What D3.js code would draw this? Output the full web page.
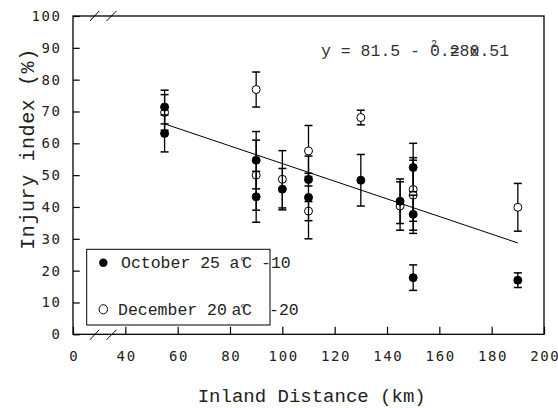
<!DOCTYPE html>
<html>
<head>
<meta charset="utf-8">
<script src="https://cdn.jsdelivr.net/npm/d3@7"></script>
<style>
  body { margin: 0; background: #fff; }
</style>
</head>
<body>
<div id="chart"></div>
<script>
// October 25 (-10 C) : filled circles
var octX   = [55, 55, 90, 90, 100, 110, 110, 130, 145, 150, 150, 150, 190];
var octY   = [71.4, 63.1, 54.7, 43.2, 45.6, 48.6, 43.0, 48.4, 41.8, 52.4, 37.7, 17.8, 17.0];
var octErr = [5.3, 5.8, 9, 8, 6.5, 2, 13, 8.1, 7, 7.6, 6, 4, 2.3];

// December 20 (-20 C) : open circles
var decX   = [55, 90, 90, 100, 110, 110, 130, 145, 150, 150, 190];
var decY   = [69.7, 76.9, 50.0, 48.7, 57.6, 38.7, 68.1, 40.3, 45.5, 43.7, 39.9];
var decErr = [5.6, 5.5, 11, 9, 8, 3, 2.3, 7.6, 10, 11, 7.5];

// regression line end points
var lineX = [55, 190];
var lineY = [66.1, 28.7];

var xTicks = [20, 40, 60, 80, 100, 120, 140, 160, 180, 200];
var xTickLabels = ["0", "40", "60", "80", "100", "120", "140", "160", "180", "200"];
var yTicks = [0, 10, 20, 30, 40, 50, 60, 70, 80, 90, 100];

var W = 558, H = 408;
var pl = 73, pr = 544, pt = 16, pb = 334.3;
var mono = "'Liberation Mono', 'Courier New', monospace";
var tickFont = "'DejaVu Sans Mono', monospace";

var svg = d3.select("#chart").append("svg")
  .attr("width", W).attr("height", H);

var x = d3.scaleLinear().domain([20, 200]).range([pl, pr]);
var y = d3.scaleLinear().domain([0, 100]).range([pb, pt]);

// axes (ticks point inward)
var gx = svg.append("g")
  .attr("transform", "translate(0," + pb + ")")
  .call(d3.axisBottom(x).tickValues(xTicks)
    .tickFormat(function(d, i){ return xTickLabels[i]; })
    .tickSize(-7.5).tickPadding(17));
gx.select(".domain").remove();

var gy = svg.append("g")
  .attr("transform", "translate(" + pl + ",0)")
  .call(d3.axisLeft(y).tickValues(yTicks).tickSize(-6.7).tickPadding(11.5));
gy.select(".domain").remove();

svg.selectAll(".tick line").attr("stroke", "#000").attr("stroke-width", 1.2);
svg.selectAll(".tick text")
  .style("font-family", tickFont)
  .style("font-size", "14px")
  .style("letter-spacing", "1.6px")
  .attr("fill", "#222");
gx.selectAll(".tick text").attr("dx", "0.8px");

// frame
svg.append("rect")
  .attr("x", pl).attr("y", pt)
  .attr("width", pr - pl).attr("height", pb - pt)
  .attr("fill", "none").attr("stroke", "#000").attr("stroke-width", 1.3);

// axis break marks
[[x(26.5), x(30)], [x(32.8), x(36.6)]].forEach(function(p){
  svg.append("line").attr("x1", p[0]).attr("x2", p[1])
    .attr("y1", pt + 5).attr("y2", pt - 5)
    .attr("stroke", "#000").attr("stroke-width", 1);
  svg.append("line").attr("x1", p[0]).attr("x2", p[1])
    .attr("y1", pb + 5.5).attr("y2", pb - 4.5)
    .attr("stroke", "#000").attr("stroke-width", 1);
});

// regression line
svg.append("line")
  .attr("x1", x(lineX[0])).attr("y1", y(lineY[0]))
  .attr("x2", x(lineX[1])).attr("y2", y(lineY[1]))
  .attr("stroke", "#000").attr("stroke-width", 1);

function drawSeries(xs, ys, es, filled){
  var g = svg.append("g");
  var cap = 4;
  xs.forEach(function(xv, i){
    var cx = x(xv), y1 = y(ys[i] + es[i]), y2 = y(ys[i] - es[i]);
    g.append("line").attr("x1", cx).attr("x2", cx).attr("y1", y1).attr("y2", y2)
      .attr("stroke", "#000").attr("stroke-width", 1.3);
    [y1, y2].forEach(function(yy){
      g.append("line").attr("x1", cx - cap).attr("x2", cx + cap)
        .attr("y1", yy).attr("y2", yy)
        .attr("stroke", "#000").attr("stroke-width", 1.5);
    });
  });
  g.selectAll("circle").data(xs).enter().append("circle")
    .attr("cx", function(d){ return x(d); })
    .attr("cy", function(d, i){ return y(ys[i]); })
    .attr("r", 4)
    .attr("fill", filled ? "#000" : "#fff")
    .attr("stroke", "#000").attr("stroke-width", 1);
}
drawSeries(decX, decY, decErr, false);
drawSeries(octX, octY, octErr, true);

// equation text (overlapping strings as in the source)
var eq = svg.append("g")
  .style("font-family", mono).style("font-size", "16.5px").attr("fill", "#333");
eq.append("text").attr("x", 321).attr("y", 56).style("white-space", "pre")
  .text("y = 81.5 - 0.28x");
eq.append("text").attr("x", 321 + 11 * 9.9 + 1).attr("y", 47)
  .style("font-size", "10px").text("2");
eq.append("text").attr("x", 321 + 13 * 9.9).attr("y", 56).style("white-space", "pre")
  .text("= 0.51");

// legend
svg.append("rect")
  .attr("x", 86.7).attr("y", 249.3).attr("width", 183.3).attr("height", 75.7)
  .attr("fill", "#fff").attr("stroke", "#000").attr("stroke-width", 1);

svg.append("circle").attr("cx", 103.3).attr("cy", 262.7).attr("r", 4.2)
  .attr("fill", "#000");
svg.append("ellipse").attr("cx", 103.3).attr("cy", 309.3).attr("rx", 4.2).attr("ry", 4.6)
  .attr("fill", "#fff").attr("stroke", "#000").attr("stroke-width", 1);

var lg = svg.append("g")
  .style("font-family", mono).style("font-size", "16.5px").attr("fill", "#222");
function legendRow(label, x0, yb, aX, cX, numX, num){
  lg.append("text").attr("x", x0).attr("y", yb).text(label);
  lg.append("text").attr("x", aX).attr("y", yb).text("a");
  lg.append("text").attr("x", cX - 2).attr("y", yb - 2).style("font-size", "13px").text("°");
  lg.append("text").attr("x", cX + 1).attr("y", yb).text("C");
  lg.append("text").attr("x", numX).attr("y", yb).text(num);
}
legendRow("October 25", 121, 268.3, 229.5, 241, 261, "-10");
legendRow("December 20", 118, 314.5, 231.5, 241, 269, "-20");

// axis titles
svg.append("text")
  .attr("x", 311.7).attr("y", 402)
  .attr("text-anchor", "middle")
  .style("font-family", mono).style("font-size", "19px")
  .attr("fill", "#222")
  .text("Inland Distance (km)");

svg.append("text")
  .attr("transform", "translate(33.5,149) rotate(-90)")
  .attr("text-anchor", "middle")
  .style("font-family", mono).style("font-size", "20px")
  .style("letter-spacing", "0.6px")
  .attr("fill", "#222")
  .text("Injury index (%)");
</script>
</body>
</html>
